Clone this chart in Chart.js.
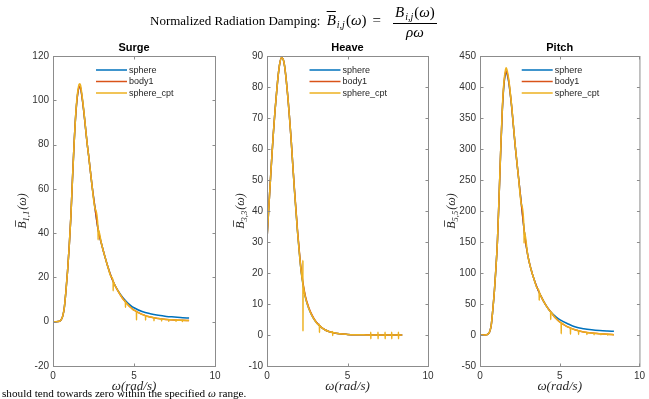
<!DOCTYPE html>
<html>
<head>
<meta charset="utf-8">
<script src="https://cdn.jsdelivr.net/npm/chart.js@4.4.1/dist/chart.umd.min.js"></script>
<style>
  html, body { margin: 0; padding: 0; background: #fff; }
  body { width: 649px; height: 399px; position: relative; overflow: hidden; }
  canvas { position: absolute; left: 0; top: 0; }
  #ttl { position: absolute; left: 150px; top: 4px; font: 13px 'Liberation Serif', serif; color: #000; white-space: nowrap; }
  #ttl .m { font-size: 15px; margin-left: 3px; }
  #ttl sub { font-size: 10px; vertical-align: -3px; margin-left: 1px; margin-right: 1px; }
  #ttl .eq { margin: 0 12px 0 6px; }
  .ov { text-decoration: overline; }
  .frac { display: inline-block; vertical-align: -12px; text-align: center; font-size: 15px; }
  .frac .num { display: block; border-bottom: 1px solid #000; padding: 0 2px 1px; }
  .frac .den { display: block; }
  #note { position: absolute; left: 2px; top: 387px; font: 11.2px 'Liberation Serif', serif; color: #000; white-space: nowrap; }
</style>
</head>
<body>
<canvas id="surge" width="649" height="399"></canvas>
<canvas id="heave" width="649" height="399"></canvas>
<canvas id="pitch" width="649" height="399"></canvas>
<div id="ttl">Normalized Radiation Damping: <span class="m"><i class="ov">B</i><sub><i>i,j</i></sub>(<i>ω</i>)</span><span class="eq m">=</span><span class="frac"><span class="num"><i>B</i><sub><i>i,j</i></sub>(<i>ω</i>)</span><span class="den"><i>ρω</i></span></span></div>
<div id="note">should tend towards zero within the specified <i>ω</i> range.</div>
<script>
// series names
const seriesNames = ['sphere', 'body1', 'sphere_cpt'];

// ---- Surge ----
const surgeOmega = [0, 0.2, 0.4, 0.5, 0.6, 0.7, 0.8, 0.9, 1.0, 1.1, 1.2, 1.3, 1.4, 1.5, 1.6, 1.65, 1.7, 1.8, 1.9, 2.0, 2.1, 2.2, 2.4, 2.6, 2.8, 3.0, 3.2, 3.4, 3.6, 3.8, 4.0, 4.2, 4.4, 4.6, 4.8, 5.0, 5.5, 6.0, 6.5, 7.0, 7.5, 8.0, 8.4];
const surgeSphere = [0, 0, 0.2, 0.8, 2.5, 6.5, 14, 23, 34, 47, 64, 80, 93, 101.5, 105.8, 106.2, 105.6, 101, 95, 88, 81, 75, 62, 51, 41, 35, 29.5, 24.5, 20.2, 16.8, 14.2, 12, 10.1, 8.6, 7.3, 6.3, 4.6, 3.6, 2.9, 2.4, 2.1, 1.8, 1.7];
const surgeBody = [0, 0, 0.2, 0.8, 2.5, 6.5, 14, 23, 34, 47, 64, 80, 93, 101.5, 105.8, 106.2, 105.6, 101, 95, 88, 81, 75, 62, 51, 41, 35, 29.5, 24.5, 20.2, 16.8, 14, 11.6, 9.6, 7.9, 6.4, 5.2, 3.3, 2.1, 1.45, 1.05, 0.8, 0.62, 0.5];
const surgeCptOmega = [0, 0.2, 0.4, 0.5, 0.6, 0.7, 0.8, 0.9, 1.0, 1.1, 1.2, 1.3, 1.4, 1.5, 1.6, 1.65, 1.7, 1.8, 1.9, 2.0, 2.1, 2.2, 2.4, 2.6, 2.78, 2.785, 2.79, 3.0, 3.2, 3.4, 3.6, 3.71, 3.715, 3.72, 3.8, 4.0, 4.2, 4.4, 4.47, 4.475, 4.48, 4.6, 4.8, 5.0, 5.15, 5.155, 5.16, 5.5, 5.71, 5.715, 5.72, 6.0, 6.23, 6.235, 6.24, 6.5, 6.7, 6.705, 6.71, 7.0, 7.14, 7.145, 7.15, 7.5, 7.59, 7.595, 7.6, 7.98, 7.985, 7.99, 8.4];
const surgeCpt = [0, 0, 0.2, 0.8, 2.5, 6.5, 14, 23, 34, 47, 64, 80, 93.5, 102.5, 107, 107.5, 106.8, 101.8, 95.5, 88.3, 81, 75, 62, 51, 42, 37, 41.8, 35, 29.5, 24.5, 20.2, 18.3, 14, 18.1, 16.8, 14, 11.6, 9.6, 9, 6.5, 8.9, 7.9, 6.4, 5.2, 4.6, 0.8, 4.55, 3.3, 2.6, 0.7, 2.58, 2.1, 1.8, 0.4, 1.78, 1.45, 1.25, 0.3, 1.24, 1.05, 0.95, 0.2, 0.94, 0.8, 0.77, 0.2, 0.76, 0.63, 0.1, 0.62, 0.5];

// ---- Heave ----
const heaveOmega = [0, 0.1, 0.2, 0.3, 0.4, 0.5, 0.6, 0.7, 0.8, 0.9, 1.0, 1.1, 1.2, 1.3, 1.4, 1.5, 1.6, 1.7, 1.8, 1.9, 2.0, 2.1, 2.2, 2.3, 2.4, 2.5, 2.6, 2.8, 3.0, 3.2, 3.4, 3.6, 3.8, 4.0, 4.5, 5.0, 5.5, 6.0, 7.0, 8.0, 8.4];
const heaveSphere = [31, 40, 49, 57.5, 65.5, 72.5, 78.5, 84, 87.8, 89.4, 89, 86.5, 82, 76.5, 70, 63, 55, 47, 40, 33, 27, 21.5, 17.5, 14.3, 11.8, 10, 8.5, 6.2, 4.5, 3.3, 2.4, 1.7, 1.2, 0.9, 0.4, 0.2, 0.1, 0.05, 0, 0, 0];
const heaveBody = [31, 40, 49, 57.5, 65.5, 72.5, 78.5, 84, 87.8, 89.4, 89, 86.5, 82, 76.5, 70, 63, 55, 47.5, 40.5, 33.5, 27.5, 22, 18, 14.8, 12.2, 10.4, 8.8, 6.4, 4.6, 3.4, 2.4, 1.7, 1.2, 0.9, 0.4, 0.2, 0.1, 0.05, 0, 0, 0];
const heaveCptOmega = [0, 0.1, 0.2, 0.3, 0.4, 0.5, 0.6, 0.7, 0.8, 0.9, 1.0, 1.1, 1.2, 1.3, 1.4, 1.5, 1.6, 1.7, 1.8, 1.9, 2.0, 2.1, 2.2, 2.225, 2.23, 2.235, 2.24, 2.3, 2.4, 2.5, 2.6, 2.8, 3.0, 3.2, 3.255, 3.26, 3.265, 3.4, 3.6, 3.8, 4.0, 4.075, 4.08, 4.085, 4.5, 5.0, 5.5, 6.0, 6.44, 6.445, 6.45, 6.455, 6.89, 6.895, 6.9, 6.905, 7.33, 7.335, 7.34, 7.345, 7.74, 7.745, 7.75, 7.755, 8.16, 8.165, 8.17, 8.175, 8.4];
const heaveCpt = [31, 40, 49, 57.5, 65.5, 72.5, 78.5, 84, 87.8, 89.4, 89, 86.5, 82, 76.5, 70, 63, 55, 47, 40, 33, 27, 21.5, 17.5, 16.5, 24.1, 1.2, 16.2, 14.3, 11.8, 10, 8.5, 6.2, 4.5, 3.3, 3.5, 0.8, 3.0, 2.4, 1.7, 1.2, 0.9, 1.1, -0.2, 0.8, 0.4, 0.2, 0.1, 0.05, 0, 0.9, -1.2, 0, 0, 0.9, -1.2, 0, 0, 0.9, -1.2, 0, 0, 0.9, -1.2, 0, 0, 0.9, -1.2, 0, 0];

// ---- Pitch ----
const pitchOmega = [0, 0.2, 0.4, 0.5, 0.6, 0.7, 0.8, 0.9, 1.0, 1.1, 1.2, 1.3, 1.4, 1.5, 1.6, 1.65, 1.7, 1.8, 1.9, 2.0, 2.2, 2.4, 2.6, 2.8, 3.0, 3.2, 3.4, 3.6, 3.8, 4.0, 4.2, 4.4, 4.6, 4.8, 5.0, 5.5, 6.0, 6.5, 7.0, 7.5, 8.0, 8.4];
const pitchSphere = [0, 0, 0.5, 1.5, 5, 15, 40, 70, 108, 155, 225, 298, 362, 403, 422, 424, 421, 408, 388, 364, 307, 258, 210, 162, 128, 106, 89, 75, 64, 54, 45.5, 38.5, 33, 28.5, 24.8, 18.2, 12.8, 10.2, 8.5, 7.3, 6.5, 6];
const pitchBody = [0, 0, 0.5, 1.5, 5, 15, 40, 70, 108, 155, 225, 298, 363, 405, 424, 426, 423, 410, 389, 365, 307, 258, 210, 162, 128, 106, 89, 75, 64, 54, 45.5, 38.5, 31.5, 25.8, 21, 13, 8, 5, 3.2, 2, 1.1, 0.6];
const pitchCptOmega = [0, 0.2, 0.4, 0.5, 0.6, 0.7, 0.8, 0.9, 1.0, 1.1, 1.2, 1.3, 1.4, 1.5, 1.6, 1.65, 1.7, 1.8, 1.9, 2.0, 2.2, 2.4, 2.6, 2.76, 2.765, 2.77, 3.0, 3.2, 3.4, 3.6, 3.71, 3.715, 3.72, 3.8, 4.0, 4.2, 4.4, 4.43, 4.435, 4.44, 4.6, 4.8, 5.0, 5.09, 5.095, 5.1, 5.5, 5.67, 5.675, 5.68, 6.0, 6.18, 6.185, 6.19, 6.5, 6.7, 6.705, 6.71, 7.0, 7.15, 7.155, 7.16, 7.5, 7.58, 7.585, 7.59, 8.0, 8.005, 8.01, 8.4];
const pitchCpt = [0, 0, 0.5, 1.5, 5, 15, 40, 70, 108, 155, 226, 300, 366, 408, 428, 431, 427, 413, 391, 366, 308, 258, 210, 170, 148, 169, 128, 106, 89, 75, 69, 56, 68.5, 64, 54, 45.5, 38.5, 37.5, 25, 37.2, 31.5, 25.8, 21, 19.5, 2, 19.3, 13, 11, 1.5, 10.9, 8, 6.8, 1, 6.75, 5, 4.2, 0.8, 4.15, 3.2, 2.8, 0.5, 2.78, 2, 1.85, 0.4, 1.83, 1.1, 0.2, 1.09, 0.6];

// axis tick settings
const xTicks = { min: 0, max: 10, step: 5 };
const surgeTicks = { min: -20, max: 120, step: 20 };
const heaveTicks = { min: -10, max: 90, step: 10 };
const pitchTicks = { min: -50, max: 450, step: 50 };

const colors = ['#0072BD', '#D95319', '#EDB120'];
const pts = (xs, ys) => xs.map((x, i) => ({ x, y: ys[i] }));

Chart.defaults.font.family = '"Liberation Sans", Arial, sans-serif';
Chart.defaults.color = '#333';

const frame = {
  id: 'frame',
  afterDatasetsDraw(chart, args, o) {
    const { ctx, chartArea: a, scales: { x, y } } = chart;
    const L = a.left + 0.5, R = a.right + 0.5, T = a.top + 0.5, B = a.bottom + 0.5;
    ctx.save();
    ctx.strokeStyle = '#8c8c8c';
    ctx.lineWidth = 1;
    ctx.strokeRect(L, T, R - L, B - T);
    ctx.beginPath();
    x.ticks.forEach((t) => {
      const px = Math.round(x.getPixelForValue(t.value)) + 0.5;
      ctx.moveTo(px, B); ctx.lineTo(px, B - 3);
      ctx.moveTo(px, T); ctx.lineTo(px, T + 3);
    });
    y.ticks.forEach((t) => {
      const py = Math.round(y.getPixelForValue(t.value)) + 0.5;
      ctx.moveTo(L, py); ctx.lineTo(L + 3, py);
      ctx.moveTo(R, py); ctx.lineTo(R - 3, py);
    });
    ctx.stroke();

    const cx = (a.left + a.right) / 2;
    // panel title
    ctx.fillStyle = '#000';
    ctx.font = 'bold 11px "Liberation Sans", Arial, sans-serif';
    ctx.textAlign = 'center';
    ctx.textBaseline = 'middle';
    ctx.fillText(o.title, cx, a.top - 8.5);

    // legend (north, no box)
    ctx.font = '9px "Liberation Sans", Arial, sans-serif';
    ctx.textAlign = 'left';
    ctx.fillStyle = '#262626';
    chart.data.datasets.forEach((d, i) => {
      const ly = a.top + 14 + i * 11.5;
      ctx.strokeStyle = d.borderColor;
      ctx.lineWidth = 1.5;
      ctx.beginPath(); ctx.moveTo(cx - 38, ly); ctx.lineTo(cx - 7, ly); ctx.stroke();
      ctx.fillText(d.label, cx - 5, ly + 0.5);
    });

    // y label  B̄_{k,k}(ω)
    ctx.translate(a.left - o.ylabOff, (a.top + a.bottom) / 2);
    ctx.rotate(-Math.PI / 2);
    ctx.fillStyle = '#262626';
    ctx.textBaseline = 'alphabetic';
    const big = 'italic 12px "Liberation Serif", serif';
    const small = 'italic 8.5px "Liberation Serif", serif';
    ctx.font = big; const wB = ctx.measureText('B').width; const wP = ctx.measureText('(ω)').width;
    ctx.font = small; const wS = ctx.measureText(o.sub).width;
    let sx = -(wB + wS + wP + 1) / 2;
    ctx.font = big; ctx.fillText('B', sx, 4.5);
    ctx.strokeStyle = '#262626'; ctx.lineWidth = 0.8;
    ctx.beginPath(); ctx.moveTo(sx + 2, -5.5); ctx.lineTo(sx + wB + 1, -5.5); ctx.stroke();
    sx += wB;
    ctx.font = small; ctx.fillText(o.sub, sx, 7.5);
    sx += wS + 1;
    ctx.font = big; ctx.fillText('(ω)', sx, 4.5);
    ctx.restore();
  }
};

function panel(id, title, sub, ticks, padL, padR, ylabOff, series) {
  new Chart(document.getElementById(id), {
    type: 'line',
    data: {
      datasets: series.map((s, i) => ({
        label: seriesNames[i],
        data: s,
        borderColor: colors[i],
        borderWidth: 1.5,
        pointRadius: 0,
        cubicInterpolationMode: 'monotone',
        order: 2 - i,
      })),
    },
    options: {
      responsive: false,
      animation: false,
      events: [],
      layout: { padding: { left: padL, right: padR, top: 56, bottom: 5 } },
      plugins: { legend: { display: false }, tooltip: { enabled: false }, frame: { title, sub, ylabOff } },
      scales: {
        x: {
          type: 'linear', min: xTicks.min, max: xTicks.max,
          ticks: { stepSize: xTicks.step, padding: 4, font: { size: 10 }, maxRotation: 0 },
          grid: { display: false, drawTicks: false }, border: { display: false },
          title: { display: true, text: 'ω(rad/s)', color: '#262626', padding: 0, font: { family: '"Liberation Serif", serif', style: 'italic', size: 13 } },
          afterFit: (s) => { s.height = 28; },
        },
        y: {
          min: ticks.min, max: ticks.max,
          ticks: { stepSize: ticks.step, padding: 4, font: { size: 10 } },
          grid: { display: false, drawTicks: false }, border: { display: false },
          afterFit: (s) => { s.width = 40; },
        },
      },
    },
    plugins: [frame],
  });
}

panel('surge', 'Surge', '1,1', surgeTicks, 13, 434, 32, [pts(surgeOmega, surgeSphere), pts(surgeOmega, surgeBody), pts(surgeCptOmega, surgeCpt)]);
panel('heave', 'Heave', '3,3', heaveTicks, 227, 221, 28, [pts(heaveOmega, heaveSphere), pts(heaveOmega, heaveBody), pts(heaveCptOmega, heaveCpt)]);
panel('pitch', 'Pitch', '5,5', pitchTicks, 440, 8, 30, [pts(pitchOmega, pitchSphere), pts(pitchOmega, pitchBody), pts(pitchCptOmega, pitchCpt)]);
</script>
</body>
</html>
